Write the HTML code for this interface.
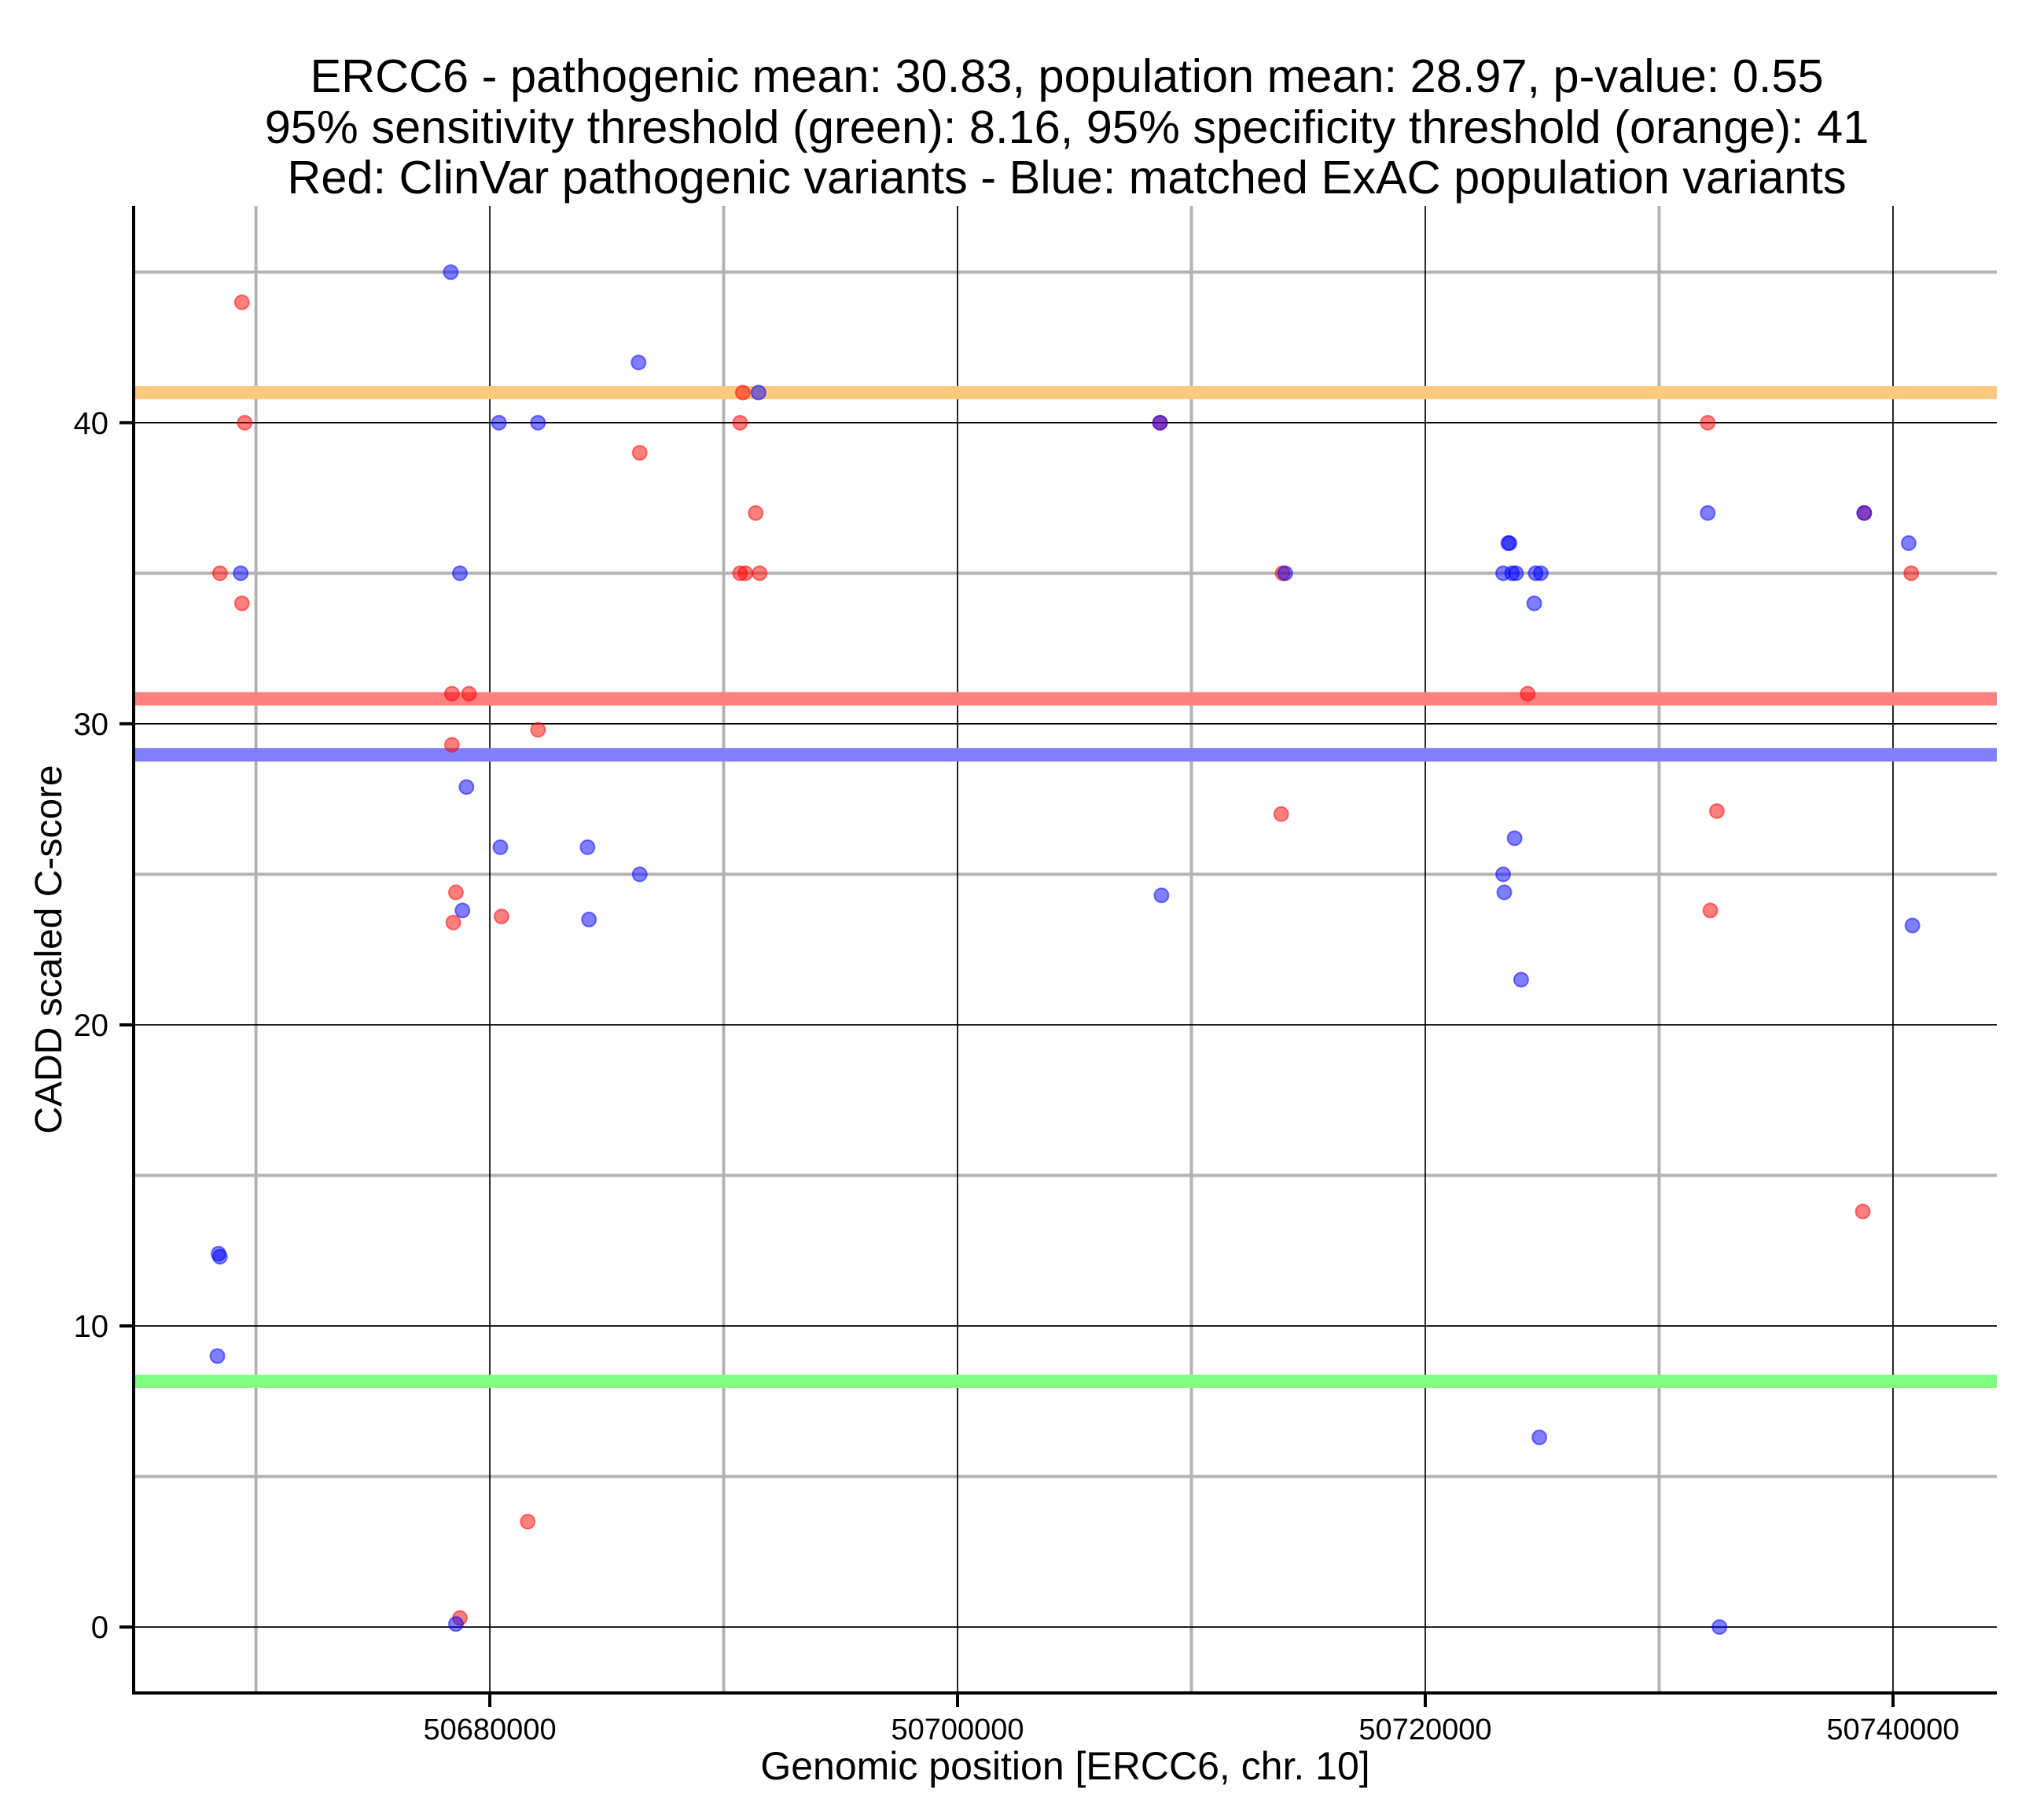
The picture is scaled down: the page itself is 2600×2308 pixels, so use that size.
<!DOCTYPE html>
<html><head><meta charset="utf-8"><style>
html,body{margin:0;padding:0;background:#fff;}
svg{display:block;font-family:"Liberation Sans",Arial,sans-serif;}
</style></head><body>
<svg id="chart" width="2600" height="2308" viewBox="0 0 2600 2308" xmlns="http://www.w3.org/2000/svg">
<g font-size="59.5" text-anchor="middle" fill="#000">
<text x="1357" y="117">ERCC6 - pathogenic mean: 30.83, population mean: 28.97, p-value: 0.55</text>
<text x="1357" y="182">95% sensitivity threshold (green): 8.16, 95% specificity threshold (orange): 41</text>
<text x="1357" y="246">Red: ClinVar pathogenic variants - Blue: matched ExAC population variants</text>
</g>
<g id="grid"></g>
<g id="thresholds"></g>
<g id="points"></g>
<g id="axes"></g>
<text x="1355" y="2264" font-size="50" text-anchor="middle">Genomic position [ERCC6, chr. 10]</text>
<text transform="translate(78,1208) rotate(-90)" font-size="48" text-anchor="middle">CADD scaled C-score</text>
</svg>
<script>
const xMajorTicks = [50680000, 50700000, 50720000, 50740000];
const xMinorTicks = [50670000, 50690000, 50710000, 50730000];
const yMajorTicks = [0, 10, 20, 30, 40];
const yMinorTicks = [5, 15, 25, 35, 45];
const thresholdValues = [41, 30.83, 28.97, 8.16];
const thresholdNames = ['specificity-threshold-orange', 'pathogenic-mean-red', 'population-mean-blue', 'sensitivity-threshold-green'];
const thresholdColors = ['#fdc97e', '#ff8080', '#8080ff', '#80ff80'];
const redX = [50669400,50669520,50668460,50669400,50678380,50679110,50678380,50682060,50678550,50678440,50680500,50681620,50678720,50686410,50690820,50690700,50691370,50690700,50690930,50691540,50708660,50713900,50713840,50724380,50732080,50732470,50732190,50738770,50738710,50740780];
const redY = [44,40,35,34,31,31,29.3,29.8,24.4,23.4,23.6,3.5,0.3,39,41,40,37,35,35,35,40,35,27,31,40,27.1,23.8,37,13.8,35];
const blueX = [50678330,50678720,50679000,50678830,50678550,50669350,50668400,50668460,50668350,50680390,50682060,50680450,50684180,50684240,50686360,50686410,50691490,50708660,50708720,50714010,50723550,50723600,50723330,50723710,50723880,50724720,50724940,50724660,50723820,50723330,50723380,50724100,50724880,50732080,50732580,50738770,50740670,50740830];
const blueY = [45,35,27.9,23.8,0.1,35,12.4,12.3,9,40,40,25.9,25.9,23.5,42,25,41,40,24.3,35,36,36,35,35,35,35,35,34,26.2,25,24.4,21.5,6.3,37,0,37,36,23.3];

const L=170,R=2540,T=262,B=2154;
const xMin=50664770,xMax=50744440,yMin=-2.19,yMax=47.2;
function sx(v){return L+(v-xMin)/(xMax-xMin)*(R-L);}
function sy(v){return B-(v-yMin)/(yMax-yMin)*(B-T);}
const NS='http://www.w3.org/2000/svg';
function mk(tag,attrs,parent){const e=document.createElementNS(NS,tag);for(const k in attrs)e.setAttribute(k,attrs[k]);parent.appendChild(e);return e;}
const grid=document.getElementById('grid');
yMinorTicks.forEach(v=>{const e=mk('line',{x1:L,x2:R,y1:sy(v),y2:sy(v),stroke:'#b3b3b3','stroke-width':4},grid);

});
xMinorTicks.forEach(v=>{const e=mk('line',{x1:sx(v),x2:sx(v),y1:T,y2:B,stroke:'#b3b3b3','stroke-width':4},grid);

});
yMajorTicks.forEach(v=>{const e=mk('line',{x1:L,x2:R,y1:sy(v),y2:sy(v),stroke:'#000','stroke-width':1.7},grid);

});
xMajorTicks.forEach(v=>{const e=mk('line',{x1:sx(v),x2:sx(v),y1:T,y2:B,stroke:'#000','stroke-width':1.7},grid);

});
const th=document.getElementById('thresholds');
thresholdValues.forEach((v,i)=>{const e=mk('line',{x1:L,x2:R,y1:sy(v),y2:sy(v),stroke:thresholdColors[i],'stroke-width':17},th);

});
const pts=document.getElementById('points');
redX.forEach((x,i)=>{const e=mk('circle',{cx:sx(x),cy:sy(redY[i]),r:9,fill:'rgba(255,0,0,0.5)',stroke:'rgba(255,0,0,0.5)','stroke-width':2},pts);

});
blueX.forEach((x,i)=>{const e=mk('circle',{cx:sx(x),cy:sy(blueY[i]),r:9,fill:'rgba(0,0,255,0.5)',stroke:'rgba(0,0,255,0.5)','stroke-width':2},pts);

});
const ax=document.getElementById('axes');
const yl=mk('line',{x1:L,x2:L,y1:T,y2:B+2,stroke:'#000','stroke-width':4},ax);


const xl=mk('line',{x1:L-2,x2:R,y1:B,y2:B,stroke:'#000','stroke-width':4},ax);


yMajorTicks.forEach(v=>{const t=mk('line',{x1:L-18,x2:L,y1:sy(v),y2:sy(v),stroke:'#000','stroke-width':4},ax);


const lb=mk('text',{x:L-32,y:sy(v)+14,'font-size':40,'text-anchor':'end'},ax);lb.textContent=String(v);

});
xMajorTicks.forEach(v=>{const t=mk('line',{x1:sx(v),x2:sx(v),y1:B,y2:B+18,stroke:'#000','stroke-width':4},ax);


const lb=mk('text',{x:sx(v),y:2213,'font-size':38,'text-anchor':'middle'},ax);lb.textContent=String(v);

});
</script>
</body></html>
